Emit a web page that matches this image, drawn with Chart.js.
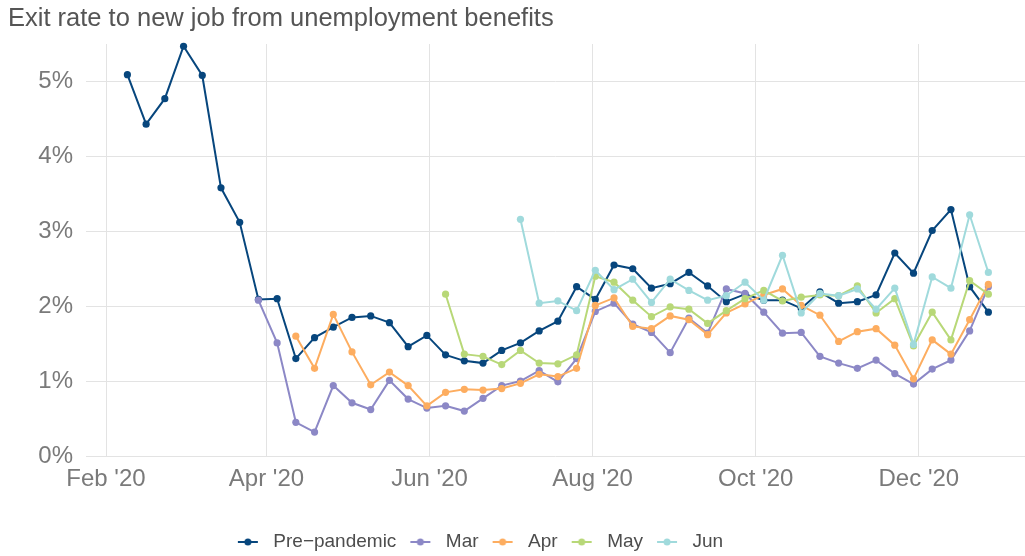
<!DOCTYPE html>
<html>
<head>
<meta charset="utf-8">
<script src="https://cdn.jsdelivr.net/npm/chart.js@4.4.0/dist/chart.umd.min.js"></script>
<style>
  html, body { margin: 0; padding: 0; background: #fff; overflow: hidden; }
  #wrap { width: 1025px; height: 556px; position: relative; }
</style>
</head>
<body>
<div id="wrap"><canvas id="exitChart"></canvas></div>
<script>
// Tuần (chủ nhật) của từng điểm
const weeks = [
  "2020-02-09", "2020-02-16", "2020-02-23", "2020-03-01", "2020-03-08", "2020-03-15",
  "2020-03-22", "2020-03-29", "2020-04-05", "2020-04-12", "2020-04-19", "2020-04-26",
  "2020-05-03", "2020-05-10", "2020-05-17", "2020-05-24", "2020-05-31", "2020-06-07",
  "2020-06-14", "2020-06-21", "2020-06-28", "2020-07-05", "2020-07-12", "2020-07-19",
  "2020-07-26", "2020-08-02", "2020-08-09", "2020-08-16", "2020-08-23", "2020-08-30",
  "2020-09-06", "2020-09-13", "2020-09-20", "2020-09-27", "2020-10-04", "2020-10-11",
  "2020-10-18", "2020-10-25", "2020-11-01", "2020-11-08", "2020-11-15", "2020-11-22",
  "2020-11-29", "2020-12-06", "2020-12-13", "2020-12-20", "2020-12-27",
];

// Tỷ lệ (%) theo nhóm
const prePandemic = [
  5.09, 4.43, 4.77, 5.47, 5.08, 3.58, 3.12, 2.09, 2.10, 1.30, 1.58, 1.72,
  1.85, 1.87, 1.78, 1.46, 1.61, 1.35, 1.27, 1.24, 1.41, 1.51, 1.67, 1.80,
  2.26, 2.09, 2.55, 2.50, 2.24, 2.30, 2.45, 2.27, 2.06, 2.16, 2.08, 2.08,
  1.97, 2.19, 2.04, 2.06, 2.15, 2.71, 2.44, 3.01, 3.29, 2.26, 1.92,
];
const mar = [
  null, null, null, null, null, null, null, 2.08, 1.51, 0.45, 0.32, 0.94,
  0.71, 0.62, 1.01, 0.76, 0.64, 0.67, 0.60, 0.77, 0.94, 1.00, 1.14, 0.99,
  1.30, 1.93, 2.04, 1.76, 1.65, 1.38, 1.84, 1.64, 2.23, 2.17, 1.92, 1.64,
  1.65, 1.33, 1.24, 1.17, 1.28, 1.10, 0.96, 1.16, 1.28, 1.67, 2.26,
];
const apr = [
  null, null, null, null, null, null, null, null, null, 1.60, 1.17, 1.89,
  1.39, 0.95, 1.12, 0.94, 0.67, 0.85, 0.89, 0.88, 0.90, 0.97, 1.09, 1.06,
  1.17, 2.01, 2.11, 1.73, 1.70, 1.87, 1.82, 1.62, 1.91, 2.03, 2.15, 2.23,
  2.01, 1.88, 1.53, 1.66, 1.70, 1.48, 1.03, 1.55, 1.36, 1.82, 2.29,
];
const may = [
  null, null, null, null, null, null, null, null, null, null, null, null,
  null, null, null, null, null, 2.16, 1.36, 1.33, 1.22, 1.41, 1.24, 1.23,
  1.35, 2.40, 2.32, 2.08, 1.86, 1.99, 1.96, 1.77, 1.94, 2.10, 2.21, 2.07,
  2.12, 2.15, 2.14, 2.27, 1.91, 2.10, 1.47, 1.92, 1.55, 2.34, 2.16,
];
const jun = [
  null, null, null, null, null, null, null, null, null, null, null, null,
  null, null, null, null, null, null, null, null, null, 3.16, 2.04, 2.07,
  1.94, 2.48, 2.22, 2.36, 2.05, 2.36, 2.21, 2.08, 2.14, 2.32, 2.08, 2.68,
  1.91, 2.17, 2.14, 2.23, 1.96, 2.24, 1.49, 2.39, 2.24, 3.22, 2.45,
];

const seriesNames = ["Pre\u2212pandemic", "Mar", "Apr", "May", "Jun"];
const seriesColors = ["#07467d", "#8c88c6", "#fdad60", "#b8d878", "#a0dadc"];

// Nhãn trục x
const monthTicks = ["2020-02-01", "2020-04-01", "2020-06-01", "2020-08-01", "2020-10-01", "2020-12-01"];
const monthLabels = ["Feb '20", "Apr '20", "Jun '20", "Aug '20", "Oct '20", "Dec '20"];
const percentTicks = [0, 1, 2, 3, 4, 5];

const fontFamily = "'Liberation Sans', Arial, sans-serif";

function toDay(s) {
  return (Date.parse(s) - Date.parse("2020-02-01")) / 86400000;
}
const monthDays = monthTicks.map(toDay);

function toPoints(values) {
  return weeks
    .map((w, i) => ({ x: toDay(w), y: values[i] }))
    .filter((p) => p.y !== null);
}

// Ký hiệu chú thích: đường + chấm
function legendMarker(color) {
  const c = document.createElement("canvas");
  c.width = 32;
  c.height = 12;
  const g = c.getContext("2d");
  g.strokeStyle = color;
  g.lineWidth = 2;
  g.beginPath();
  g.moveTo(6, 6);
  g.lineTo(26, 6);
  g.stroke();
  g.fillStyle = color;
  g.beginPath();
  g.arc(16, 6, 3.5, 0, Math.PI * 2);
  g.fill();
  return c;
}
const markers = seriesColors.map(legendMarker);

const allSeries = [prePandemic, mar, apr, may, jun];
const datasets = allSeries.map((values, i) => ({
  label: seriesNames[i],
  data: toPoints(values),
  borderColor: seriesColors[i],
  backgroundColor: seriesColors[i],
  borderWidth: 2,
  pointRadius: 3.6,
  pointHoverRadius: 3.6,
  pointBorderWidth: 0,
  tension: 0,
  clip: false,
  order: allSeries.length - i, // Jun vẽ trên cùng
}));

// Dời chú thích cho khớp vị trí
const legendShift = {
  id: "legendShift",
  afterLayout(chart) {
    const lg = chart.legend;
    lg.left -= 39;
    lg.right -= 39;
    lg.top += 5.5;
    lg.bottom += 5.5;
  },
};

const ctx = document.getElementById("exitChart").getContext("2d");
new Chart(ctx, {
  type: "line",
  data: { datasets: datasets },
  plugins: [legendShift],
  options: {
    responsive: true,
    maintainAspectRatio: false,
    animation: false,
    layout: { autoPadding: false, padding: { left: 8, right: 0, top: 0, bottom: 0 } },
    plugins: {
      title: {
        display: true,
        text: "Exit rate to new job from unemployment benefits",
        align: "start",
        color: "#555555",
        font: { family: fontFamily, size: 25.5, weight: "normal" },
        padding: { top: 4, bottom: 9.4 },
      },
      legend: {
        position: "bottom",
        labels: {
          usePointStyle: true,
          pointStyleWidth: 32,
          padding: 8,
          color: "#4d4d4d",
          font: { family: fontFamily, size: 19 },
          sort: (a, b) => a.datasetIndex - b.datasetIndex,
          generateLabels: (chart) =>
            Chart.defaults.plugins.legend.labels
              .generateLabels(chart)
              .map((item) => ({ ...item, pointStyle: markers[item.datasetIndex] })),
        },
      },
      tooltip: { enabled: false },
    },
    scales: {
      x: {
        type: "linear",
        min: -7.48,
        max: 343.7,
        afterBuildTicks: (scale) => {
          scale.ticks = monthDays.map((v) => ({ value: v }));
        },
        afterFit: (scale) => {
          scale.height = 63;
        },
        ticks: {
          callback: (v) => monthLabels[monthDays.indexOf(v)],
          color: "#7a7a7a",
          font: { family: fontFamily, size: 24 },
          padding: 9,
          maxRotation: 0,
          autoSkip: false,
        },
        grid: { color: "#e3e3e3", lineWidth: 1, drawTicks: false },
        border: { display: false },
      },
      y: {
        min: 0,
        max: 5.5,
        afterBuildTicks: (scale) => {
          scale.ticks = percentTicks.map((v) => ({ value: v }));
        },
        afterFit: (scale) => {
          scale.width = 78;
        },
        ticks: {
          callback: (v) => v + "%",
          color: "#7a7a7a",
          font: { family: fontFamily, size: 24 },
          padding: 13,
        },
        grid: { color: "#e3e3e3", lineWidth: 1, drawTicks: false },
        border: { display: false },
      },
    },
  },
});
</script>
</body>
</html>
